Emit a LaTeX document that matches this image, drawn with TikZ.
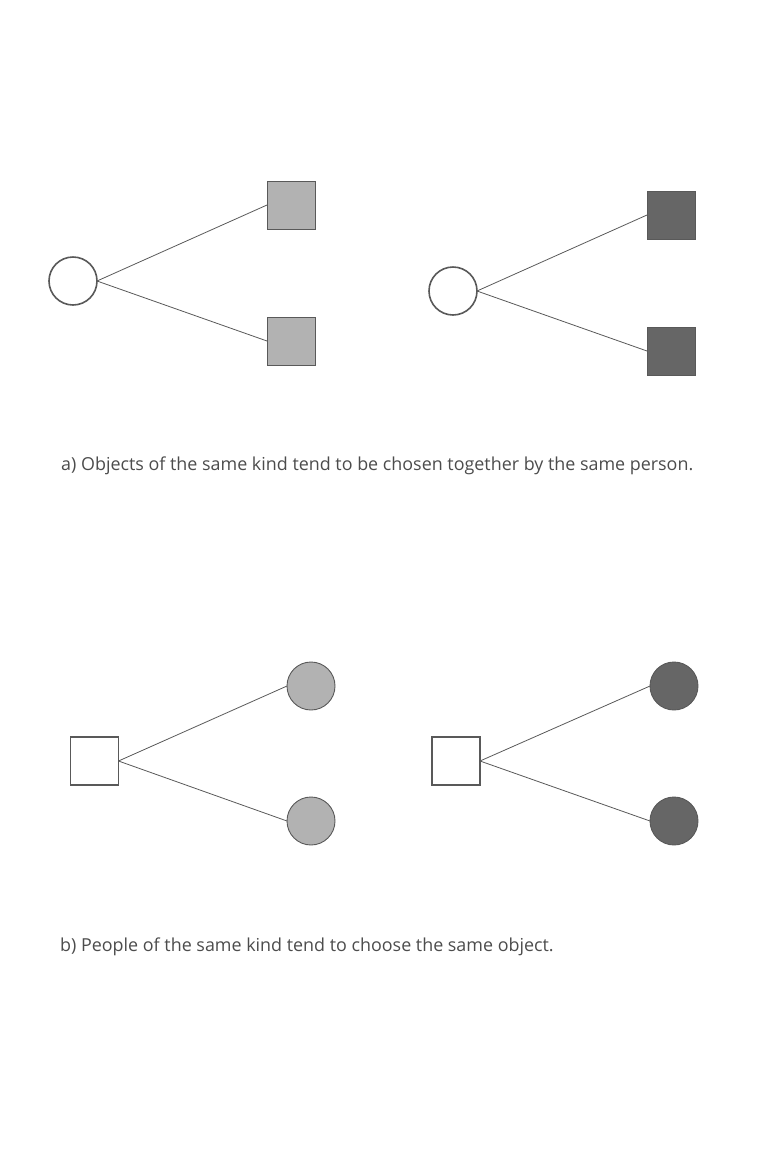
\documentclass[tikz,border=0pt]{standalone}
\usepackage{fontspec}
\setmainfont{Open Sans}
\begin{document}
\begin{tikzpicture}[x=1pt,y=-1pt,
  openshape/.style={draw=black!65,line width=1.6pt,fill=white,inner sep=0pt,outer sep=0pt},
  opencirc/.style={openshape,circle,minimum size=48pt},
  opensq/.style={openshape,rectangle,minimum size=48pt},
  fillsq/.style={rectangle,draw=black!65,line width=0.9pt,minimum size=48pt,inner sep=0pt,outer sep=0pt},
  fillcirc/.style={circle,draw=black!65,line width=0.9pt,minimum size=48pt,inner sep=0pt,outer sep=0pt},
  lightfill/.style={fill=black!30},
  darkfill/.style={fill=black!60},
  edge/.style={draw=black!65,line width=0.8pt},
  caption/.style={anchor=base west,inner sep=0pt,text=black!70,font=\fontsize{17.9}{21}\selectfont}]
\useasboundingbox (0,0) rectangle (768,1152);
% panel a left
\node[opencirc] (a1) at (73,281) {};
\node[fillsq,lightfill] (a1t) at (291,205) {};
\node[fillsq,lightfill] (a1b) at (291,341) {};
\draw[edge] (a1.east) -- (a1t.west);
\draw[edge] (a1.east) -- (a1b.west);
% panel a right
\node[opencirc] (a2) at (453,291) {};
\node[fillsq,darkfill] (a2t) at (671,215) {};
\node[fillsq,darkfill] (a2b) at (671,351) {};
\draw[edge] (a2.east) -- (a2t.west);
\draw[edge] (a2.east) -- (a2b.west);
\node[caption] (capa) at (61,470) {a) Objects of the same kind tend to be chosen together by the same person.};
% panel b left
\node[opensq] (b1) at (94.5,761) {};
\node[fillcirc,lightfill] (b1t) at (311,686) {};
\node[fillcirc,lightfill] (b1b) at (311,821) {};
\draw[edge] (b1.east) -- (b1t.west);
\draw[edge] (b1.east) -- (b1b.west);
% panel b right
\node[opensq] (b2) at (456,761) {};
\node[fillcirc,darkfill] (b2t) at (674,686) {};
\node[fillcirc,darkfill] (b2b) at (674,821) {};
\draw[edge] (b2.east) -- (b2t.west);
\draw[edge] (b2.east) -- (b2b.west);
\node[caption] (capb) at (60,951) {b) People of the same kind tend to choose the same object.};
\end{tikzpicture}
\end{document}
